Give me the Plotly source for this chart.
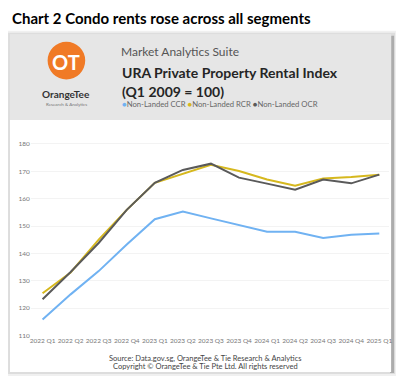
import plotly.graph_objects as go

# browser page has an 8px body margin; the figure starts at (8, 8)
OFF = 8
W, H = 404 - OFF, 386 - OFF

quarters = ["2022 Q1", "2022 Q2", "2022 Q3", "2022 Q4", "2023 Q1", "2023 Q2", "2023 Q3",
            "2023 Q4", "2024 Q1", "2024 Q2", "2024 Q3", "2024 Q4", "2025 Q1"]
ccr = [115.8, 125.0, 133.5, 143.2, 152.5, 155.3, 152.8, 150.4, 147.9, 147.9, 145.6, 146.8, 147.3]
rcr = [125.4, 133.0, 145.0, 155.9, 165.8, 169.1, 172.4, 170.1, 167.0, 164.7, 167.4, 167.9, 168.7]
ocr = [123.2, 133.2, 143.8, 155.9, 165.8, 170.5, 172.8, 167.7, 165.5, 163.3, 167.0, 165.6, 168.8]
series_names = ["Non-Landed CCR", "Non-Landed RCR", "Non-Landed OCR"]
series_colors = ["#70b2f2", "#d6b81e", "#5a5a5a"]
y_ticks = [110, 120, 130, 140, 150, 160, 170, 180]

def px(x):
    return (x - OFF) / W

def py(y):
    return (H - (y - OFF)) / H

fig = go.Figure()
for name, vals, col in zip(series_names, [ccr, rcr, ocr], series_colors):
    fig.add_trace(go.Scatter(x=quarters, y=vals, mode="lines", name=name,
                             line=dict(color=col, width=2), showlegend=False))

shapes = []
# card shadow
shapes.append(dict(type="rect", xref="paper", yref="paper", x0=px(6), x1=px(399), y0=py(379), y1=py(31),
                   fillcolor="rgba(0,0,0,0.06)", line=dict(width=0), layer="below"))
shapes.append(dict(type="rect", xref="paper", yref="paper", x0=px(7), x1=px(398), y0=py(377), y1=py(33),
                   fillcolor="rgba(0,0,0,0.08)", line=dict(width=0), layer="below"))
shapes.append(dict(type="rect", xref="paper", yref="paper", x0=px(393), x1=px(397), y0=py(376), y1=py(36),
                   fillcolor="rgba(0,0,0,0.22)", line=dict(width=0), layer="below"))
# card body
shapes.append(dict(type="rect", xref="paper", yref="paper", x0=px(9), x1=px(394), y0=py(375), y1=py(35),
                   fillcolor="#ffffff", line=dict(width=0), layer="below"))
# header
shapes.append(dict(type="rect", xref="paper", yref="paper", x0=px(9), x1=px(394), y0=py(121), y1=py(35),
                   fillcolor="#e6e6e6", line=dict(width=0), layer="below"))
# logo circle
cx, cy, r = 66, 61, 19
shapes.append(dict(type="circle", xref="paper", yref="paper", x0=px(cx - r), x1=px(cx + r),
                   y0=py(cy + r), y1=py(cy - r), fillcolor="#f07a26", line=dict(width=0), layer="below"))

legend_text = "".join(
    f"<span style='color:{c}'>●</span>{n} " for n, c in zip(series_names, series_colors))

ann = [
    dict(x=px(10), y=py(8), text="<b>Chart 2 Condo rents rose across all segments</b>",
         font=dict(family="Lato", size=15, color="#000000"), xanchor="left", yanchor="top", borderpad=0),
    dict(x=px(cx), y=py(cy + 1), text="<b>OT</b>", font=dict(family="Lato", size=20, color="#ffffff"),
         xanchor="center", yanchor="middle"),
    dict(x=px(cx), y=py(95), text="<b>OrangeTee</b>", font=dict(family="Lato", size=10, color="#333333"),
         xanchor="center", yanchor="middle"),
    dict(x=px(cx), y=py(105), text="Research & Analytics", font=dict(family="Lato", size=4.5, color="#777777"),
         xanchor="center", yanchor="middle"),
    dict(x=px(119), y=py(52), text="Market Analytics Suite", font=dict(family="Lato", size=12, color="#555555"),
         xanchor="left", yanchor="middle"),
    dict(x=px(120), y=py(73), text="<b>URA Private Property Rental Index</b>",
         font=dict(family="Lato", size=14, color="#252525"), xanchor="left", yanchor="middle"),
    dict(x=px(120), y=py(92), text="<b>(Q1 2009 = 100)</b>",
         font=dict(family="Lato", size=14, color="#252525"), xanchor="left", yanchor="middle"),
    dict(x=px(120), y=py(105), text=legend_text, font=dict(family="Lato", size=7.7, color="#666666"),
         xanchor="left", yanchor="middle"),
    dict(x=px(206), y=py(361), text="Source: Data.gov.sg, OrangeTee & Tie Research & Analytics",
         font=dict(family="Lato", size=7.5, color="#444444"), xanchor="center", yanchor="middle"),
    dict(x=px(206), y=py(369), text="Copyright © OrangeTee & Tie Pte Ltd. All rights reserved",
         font=dict(family="Lato", size=7.5, color="#444444"), xanchor="center", yanchor="middle"),
]
for a in ann:
    a.update(xref="paper", yref="paper", showarrow=False)

fig.update_layout(
    width=W, height=H, margin=dict(l=0, r=0, t=0, b=0),
    paper_bgcolor="#ffffff", plot_bgcolor="rgba(0,0,0,0)",
    shapes=shapes, annotations=ann, showlegend=False,
    xaxis=dict(domain=[px(30), px(392)], range=[-0.42, 12.35], showgrid=False, zeroline=False,
               showline=False, tickfont=dict(family="Lato", size=6.5, color="#777777"), ticks=""),
    yaxis=dict(domain=[py(338), py(139)], range=[110, 182.2], tickvals=y_ticks, showgrid=True,
               gridcolor="#f3f3f3", gridwidth=1, zeroline=False, showline=False,
               tickfont=dict(family="Lato", size=6.5, color="#777777"), ticks=""),
)

fig.write_html("out.html")
